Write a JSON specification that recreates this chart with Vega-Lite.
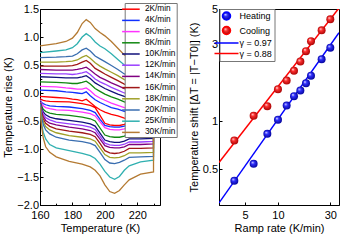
{
"$schema": "https://vega.github.io/schema/vega-lite/v6.json",
"padding": {"left": 2, "top": 2, "right": 3, "bottom": 1},
"bounds": "flush",
"spacing": 59,
"resolve": {"scale": {"color": "independent"}, "legend": {"color": "independent"}},
"config": {
 "font": "Liberation Sans",
 "view": {"stroke": "black", "strokeWidth": 1},
 "axis": {"domainColor": "black", "tickColor": "black", "labelColor": "black", "titleColor": "black", "labelFontSize": 11, "titleFontSize": 11, "titleFontWeight": "normal", "tickSize": -3, "labelPadding": 5, "titlePadding": 3, "grid": false, "labelFlush": false, "labelFont": "Liberation Sans", "titleFont": "Liberation Sans"},
 "axisX": {"labelPadding": 7, "titlePadding": 2},
 "axisY": {"labelPadding": 4.5}
},
"hconcat": [
{
 "width": 120, "height": 196,
 "data": {"values": [
{"r":"2K/min","t":160,"v":-0.06,"o":0},{"r":"2K/min","t":170,"v":-0.08,"o":1},{"r":"2K/min","t":176,"v":-0.09,"o":2},{"r":"2K/min","t":180,"v":-0.11,"o":3},{"r":"2K/min","t":183,"v":-0.12,"o":4},{"r":"2K/min","t":186,"v":-0.14,"o":5},{"r":"2K/min","t":188.5,"v":-0.11,"o":6},{"r":"2K/min","t":191,"v":-0.17,"o":7},{"r":"2K/min","t":194,"v":-0.24,"o":8},{"r":"2K/min","t":197,"v":-0.30,"o":9},{"r":"2K/min","t":200,"v":-0.34,"o":10},{"r":"2K/min","t":204,"v":-0.38,"o":11},{"r":"2K/min","t":208,"v":-0.41,"o":12},{"r":"2K/min","t":212,"v":-0.45,"o":13},{"r":"2K/min","t":220,"v":-0.49,"o":14},{"r":"2K/min","t":230,"v":-0.52,"o":15},
{"r":"2K/min","t":230,"v":-0.51,"o":16},{"r":"2K/min","t":222,"v":-0.52,"o":17},{"r":"2K/min","t":215,"v":-0.52,"o":18},{"r":"2K/min","t":212,"v":-0.56,"o":19},{"r":"2K/min","t":209,"v":-0.58,"o":20},{"r":"2K/min","t":206,"v":-0.58,"o":21},{"r":"2K/min","t":203,"v":-0.57,"o":22},{"r":"2K/min","t":200,"v":-0.54,"o":23},{"r":"2K/min","t":197,"v":-0.40,"o":24},{"r":"2K/min","t":194,"v":-0.26,"o":25},{"r":"2K/min","t":191,"v":-0.22,"o":26},{"r":"2K/min","t":186,"v":-0.19,"o":27},{"r":"2K/min","t":178,"v":-0.16,"o":28},{"r":"2K/min","t":170,"v":-0.155,"o":29},{"r":"2K/min","t":166,"v":-0.15,"o":30},{"r":"2K/min","t":163.5,"v":-0.14,"o":31},{"r":"2K/min","t":162,"v":-0.13,"o":32},{"r":"2K/min","t":161,"v":-0.12,"o":33},{"r":"2K/min","t":160,"v":-0.10,"o":34},
{"r":"4K/min","t":160,"v":0.05,"o":0},{"r":"4K/min","t":170,"v":0.04,"o":1},{"r":"4K/min","t":176,"v":0.02,"o":2},{"r":"4K/min","t":180,"v":0.01,"o":3},{"r":"4K/min","t":183,"v":0.0,"o":4},{"r":"4K/min","t":186,"v":-0.01,"o":5},{"r":"4K/min","t":188.5,"v":0.02,"o":6},{"r":"4K/min","t":191,"v":-0.05,"o":7},{"r":"4K/min","t":194,"v":-0.12,"o":8},{"r":"4K/min","t":197,"v":-0.17,"o":9},{"r":"4K/min","t":200,"v":-0.21,"o":10},{"r":"4K/min","t":204,"v":-0.26,"o":11},{"r":"4K/min","t":208,"v":-0.29,"o":12},{"r":"4K/min","t":212,"v":-0.33,"o":13},{"r":"4K/min","t":220,"v":-0.38,"o":14},{"r":"4K/min","t":230,"v":-0.41,"o":15},
{"r":"4K/min","t":230,"v":-0.55,"o":16},{"r":"4K/min","t":222,"v":-0.56,"o":17},{"r":"4K/min","t":215,"v":-0.56,"o":18},{"r":"4K/min","t":212,"v":-0.59,"o":19},{"r":"4K/min","t":209,"v":-0.61,"o":20},{"r":"4K/min","t":206,"v":-0.61,"o":21},{"r":"4K/min","t":203,"v":-0.60,"o":22},{"r":"4K/min","t":200,"v":-0.58,"o":23},{"r":"4K/min","t":197,"v":-0.47,"o":24},{"r":"4K/min","t":194,"v":-0.35,"o":25},{"r":"4K/min","t":191,"v":-0.31,"o":26},{"r":"4K/min","t":186,"v":-0.28,"o":27},{"r":"4K/min","t":178,"v":-0.25,"o":28},{"r":"4K/min","t":170,"v":-0.24,"o":29},{"r":"4K/min","t":166,"v":-0.23,"o":30},{"r":"4K/min","t":163.5,"v":-0.21,"o":31},{"r":"4K/min","t":162,"v":-0.19,"o":32},{"r":"4K/min","t":161,"v":-0.17,"o":33},{"r":"4K/min","t":160,"v":-0.12,"o":34},
{"r":"6K/min","t":160,"v":0.12,"o":0},{"r":"6K/min","t":170,"v":0.11,"o":1},{"r":"6K/min","t":176,"v":0.09,"o":2},{"r":"6K/min","t":180,"v":0.08,"o":3},{"r":"6K/min","t":183,"v":0.07,"o":4},{"r":"6K/min","t":186,"v":0.07,"o":5},{"r":"6K/min","t":188.5,"v":0.09,"o":6},{"r":"6K/min","t":191,"v":0.04,"o":7},{"r":"6K/min","t":194,"v":-0.04,"o":8},{"r":"6K/min","t":197,"v":-0.09,"o":9},{"r":"6K/min","t":200,"v":-0.13,"o":10},{"r":"6K/min","t":204,"v":-0.18,"o":11},{"r":"6K/min","t":208,"v":-0.22,"o":12},{"r":"6K/min","t":212,"v":-0.26,"o":13},{"r":"6K/min","t":220,"v":-0.30,"o":14},{"r":"6K/min","t":230,"v":-0.34,"o":15},
{"r":"6K/min","t":230,"v":-0.59,"o":16},{"r":"6K/min","t":222,"v":-0.60,"o":17},{"r":"6K/min","t":215,"v":-0.60,"o":18},{"r":"6K/min","t":212,"v":-0.64,"o":19},{"r":"6K/min","t":209,"v":-0.66,"o":20},{"r":"6K/min","t":206,"v":-0.66,"o":21},{"r":"6K/min","t":203,"v":-0.65,"o":22},{"r":"6K/min","t":200,"v":-0.62,"o":23},{"r":"6K/min","t":197,"v":-0.515,"o":24},{"r":"6K/min","t":194,"v":-0.41,"o":25},{"r":"6K/min","t":191,"v":-0.37,"o":26},{"r":"6K/min","t":186,"v":-0.34,"o":27},{"r":"6K/min","t":178,"v":-0.31,"o":28},{"r":"6K/min","t":170,"v":-0.30,"o":29},{"r":"6K/min","t":166,"v":-0.28,"o":30},{"r":"6K/min","t":163.5,"v":-0.26,"o":31},{"r":"6K/min","t":162,"v":-0.23,"o":32},{"r":"6K/min","t":161,"v":-0.19,"o":33},{"r":"6K/min","t":160,"v":-0.13,"o":34},
{"r":"8K/min","t":160,"v":0.20,"o":0},{"r":"8K/min","t":170,"v":0.19,"o":1},{"r":"8K/min","t":176,"v":0.18,"o":2},{"r":"8K/min","t":180,"v":0.17,"o":3},{"r":"8K/min","t":183,"v":0.17,"o":4},{"r":"8K/min","t":186,"v":0.19,"o":5},{"r":"8K/min","t":188.5,"v":0.21,"o":6},{"r":"8K/min","t":191,"v":0.16,"o":7},{"r":"8K/min","t":194,"v":0.08,"o":8},{"r":"8K/min","t":197,"v":0.03,"o":9},{"r":"8K/min","t":200,"v":-0.02,"o":10},{"r":"8K/min","t":204,"v":-0.07,"o":11},{"r":"8K/min","t":208,"v":-0.11,"o":12},{"r":"8K/min","t":212,"v":-0.16,"o":13},{"r":"8K/min","t":220,"v":-0.21,"o":14},{"r":"8K/min","t":230,"v":-0.24,"o":15},
{"r":"8K/min","t":230,"v":-0.72,"o":16},{"r":"8K/min","t":222,"v":-0.73,"o":17},{"r":"8K/min","t":215,"v":-0.73,"o":18},{"r":"8K/min","t":212,"v":-0.77,"o":19},{"r":"8K/min","t":209,"v":-0.79,"o":20},{"r":"8K/min","t":206,"v":-0.79,"o":21},{"r":"8K/min","t":203,"v":-0.78,"o":22},{"r":"8K/min","t":200,"v":-0.75,"o":23},{"r":"8K/min","t":197,"v":-0.625,"o":24},{"r":"8K/min","t":194,"v":-0.50,"o":25},{"r":"8K/min","t":191,"v":-0.46,"o":26},{"r":"8K/min","t":186,"v":-0.43,"o":27},{"r":"8K/min","t":178,"v":-0.40,"o":28},{"r":"8K/min","t":170,"v":-0.38,"o":29},{"r":"8K/min","t":166,"v":-0.36,"o":30},{"r":"8K/min","t":163.5,"v":-0.33,"o":31},{"r":"8K/min","t":162,"v":-0.29,"o":32},{"r":"8K/min","t":161,"v":-0.23,"o":33},{"r":"8K/min","t":160,"v":-0.14,"o":34},
{"r":"10K/min","t":160,"v":0.29,"o":0},{"r":"10K/min","t":170,"v":0.28,"o":1},{"r":"10K/min","t":176,"v":0.27,"o":2},{"r":"10K/min","t":180,"v":0.27,"o":3},{"r":"10K/min","t":183,"v":0.27,"o":4},{"r":"10K/min","t":186,"v":0.29,"o":5},{"r":"10K/min","t":188.5,"v":0.31,"o":6},{"r":"10K/min","t":191,"v":0.26,"o":7},{"r":"10K/min","t":194,"v":0.18,"o":8},{"r":"10K/min","t":197,"v":0.13,"o":9},{"r":"10K/min","t":200,"v":0.08,"o":10},{"r":"10K/min","t":204,"v":0.03,"o":11},{"r":"10K/min","t":208,"v":-0.02,"o":12},{"r":"10K/min","t":212,"v":-0.06,"o":13},{"r":"10K/min","t":220,"v":-0.12,"o":14},{"r":"10K/min","t":230,"v":-0.15,"o":15},
{"r":"10K/min","t":230,"v":-0.81,"o":16},{"r":"10K/min","t":222,"v":-0.82,"o":17},{"r":"10K/min","t":215,"v":-0.82,"o":18},{"r":"10K/min","t":212,"v":-0.86,"o":19},{"r":"10K/min","t":209,"v":-0.88,"o":20},{"r":"10K/min","t":206,"v":-0.88,"o":21},{"r":"10K/min","t":203,"v":-0.87,"o":22},{"r":"10K/min","t":200,"v":-0.84,"o":23},{"r":"10K/min","t":197,"v":-0.715,"o":24},{"r":"10K/min","t":194,"v":-0.59,"o":25},{"r":"10K/min","t":191,"v":-0.55,"o":26},{"r":"10K/min","t":186,"v":-0.52,"o":27},{"r":"10K/min","t":178,"v":-0.49,"o":28},{"r":"10K/min","t":170,"v":-0.46,"o":29},{"r":"10K/min","t":166,"v":-0.43,"o":30},{"r":"10K/min","t":163.5,"v":-0.39,"o":31},{"r":"10K/min","t":162,"v":-0.34,"o":32},{"r":"10K/min","t":161,"v":-0.27,"o":33},{"r":"10K/min","t":160,"v":-0.15,"o":34},
{"r":"12K/min","t":160,"v":0.35,"o":0},{"r":"12K/min","t":170,"v":0.34,"o":1},{"r":"12K/min","t":176,"v":0.34,"o":2},{"r":"12K/min","t":180,"v":0.33,"o":3},{"r":"12K/min","t":183,"v":0.34,"o":4},{"r":"12K/min","t":186,"v":0.36,"o":5},{"r":"12K/min","t":188.5,"v":0.38,"o":6},{"r":"12K/min","t":191,"v":0.33,"o":7},{"r":"12K/min","t":194,"v":0.25,"o":8},{"r":"12K/min","t":197,"v":0.20,"o":9},{"r":"12K/min","t":200,"v":0.16,"o":10},{"r":"12K/min","t":204,"v":0.10,"o":11},{"r":"12K/min","t":208,"v":0.05,"o":12},{"r":"12K/min","t":212,"v":0.0,"o":13},{"r":"12K/min","t":220,"v":-0.05,"o":14},{"r":"12K/min","t":230,"v":-0.09,"o":15},
{"r":"12K/min","t":230,"v":-0.865,"o":16},{"r":"12K/min","t":222,"v":-0.875,"o":17},{"r":"12K/min","t":215,"v":-0.875,"o":18},{"r":"12K/min","t":212,"v":-0.915,"o":19},{"r":"12K/min","t":209,"v":-0.935,"o":20},{"r":"12K/min","t":206,"v":-0.935,"o":21},{"r":"12K/min","t":203,"v":-0.925,"o":22},{"r":"12K/min","t":200,"v":-0.895,"o":23},{"r":"12K/min","t":197,"v":-0.77,"o":24},{"r":"12K/min","t":194,"v":-0.65,"o":25},{"r":"12K/min","t":191,"v":-0.61,"o":26},{"r":"12K/min","t":186,"v":-0.58,"o":27},{"r":"12K/min","t":178,"v":-0.55,"o":28},{"r":"12K/min","t":170,"v":-0.52,"o":29},{"r":"12K/min","t":166,"v":-0.48,"o":30},{"r":"12K/min","t":163.5,"v":-0.44,"o":31},{"r":"12K/min","t":162,"v":-0.38,"o":32},{"r":"12K/min","t":161,"v":-0.30,"o":33},{"r":"12K/min","t":160,"v":-0.16,"o":34},
{"r":"14K/min","t":160,"v":0.42,"o":0},{"r":"14K/min","t":170,"v":0.41,"o":1},{"r":"14K/min","t":176,"v":0.41,"o":2},{"r":"14K/min","t":180,"v":0.41,"o":3},{"r":"14K/min","t":183,"v":0.42,"o":4},{"r":"14K/min","t":186,"v":0.44,"o":5},{"r":"14K/min","t":188.5,"v":0.46,"o":6},{"r":"14K/min","t":191,"v":0.41,"o":7},{"r":"14K/min","t":194,"v":0.34,"o":8},{"r":"14K/min","t":197,"v":0.28,"o":9},{"r":"14K/min","t":200,"v":0.24,"o":10},{"r":"14K/min","t":204,"v":0.18,"o":11},{"r":"14K/min","t":208,"v":0.13,"o":12},{"r":"14K/min","t":212,"v":0.08,"o":13},{"r":"14K/min","t":220,"v":0.02,"o":14},{"r":"14K/min","t":230,"v":-0.01,"o":15},
{"r":"14K/min","t":230,"v":-0.91,"o":16},{"r":"14K/min","t":222,"v":-0.92,"o":17},{"r":"14K/min","t":215,"v":-0.92,"o":18},{"r":"14K/min","t":212,"v":-0.96,"o":19},{"r":"14K/min","t":209,"v":-0.98,"o":20},{"r":"14K/min","t":206,"v":-0.98,"o":21},{"r":"14K/min","t":203,"v":-0.97,"o":22},{"r":"14K/min","t":200,"v":-0.94,"o":23},{"r":"14K/min","t":197,"v":-0.825,"o":24},{"r":"14K/min","t":194,"v":-0.71,"o":25},{"r":"14K/min","t":191,"v":-0.67,"o":26},{"r":"14K/min","t":186,"v":-0.64,"o":27},{"r":"14K/min","t":178,"v":-0.61,"o":28},{"r":"14K/min","t":170,"v":-0.57,"o":29},{"r":"14K/min","t":166,"v":-0.54,"o":30},{"r":"14K/min","t":163.5,"v":-0.49,"o":31},{"r":"14K/min","t":162,"v":-0.42,"o":32},{"r":"14K/min","t":161,"v":-0.33,"o":33},{"r":"14K/min","t":160,"v":-0.17,"o":34},
{"r":"16K/min","t":160,"v":0.48,"o":0},{"r":"16K/min","t":170,"v":0.48,"o":1},{"r":"16K/min","t":176,"v":0.48,"o":2},{"r":"16K/min","t":180,"v":0.49,"o":3},{"r":"16K/min","t":183,"v":0.51,"o":4},{"r":"16K/min","t":186,"v":0.55,"o":5},{"r":"16K/min","t":188.5,"v":0.58,"o":6},{"r":"16K/min","t":191,"v":0.53,"o":7},{"r":"16K/min","t":194,"v":0.44,"o":8},{"r":"16K/min","t":197,"v":0.39,"o":9},{"r":"16K/min","t":200,"v":0.34,"o":10},{"r":"16K/min","t":204,"v":0.28,"o":11},{"r":"16K/min","t":208,"v":0.22,"o":12},{"r":"16K/min","t":212,"v":0.16,"o":13},{"r":"16K/min","t":220,"v":0.10,"o":14},{"r":"16K/min","t":230,"v":0.06,"o":15},
{"r":"16K/min","t":230,"v":-0.98,"o":16},{"r":"16K/min","t":222,"v":-0.99,"o":17},{"r":"16K/min","t":215,"v":-0.99,"o":18},{"r":"16K/min","t":212,"v":-1.04,"o":19},{"r":"16K/min","t":209,"v":-1.07,"o":20},{"r":"16K/min","t":206,"v":-1.08,"o":21},{"r":"16K/min","t":203,"v":-1.07,"o":22},{"r":"16K/min","t":200,"v":-1.03,"o":23},{"r":"16K/min","t":197,"v":-0.90,"o":24},{"r":"16K/min","t":194,"v":-0.78,"o":25},{"r":"16K/min","t":191,"v":-0.74,"o":26},{"r":"16K/min","t":186,"v":-0.71,"o":27},{"r":"16K/min","t":178,"v":-0.68,"o":28},{"r":"16K/min","t":170,"v":-0.64,"o":29},{"r":"16K/min","t":166,"v":-0.595,"o":30},{"r":"16K/min","t":163.5,"v":-0.54,"o":31},{"r":"16K/min","t":162,"v":-0.465,"o":32},{"r":"16K/min","t":161,"v":-0.36,"o":33},{"r":"16K/min","t":160,"v":-0.18,"o":34},
{"r":"18K/min","t":160,"v":0.55,"o":0},{"r":"18K/min","t":170,"v":0.55,"o":1},{"r":"18K/min","t":176,"v":0.56,"o":2},{"r":"18K/min","t":180,"v":0.57,"o":3},{"r":"18K/min","t":183,"v":0.59,"o":4},{"r":"18K/min","t":186,"v":0.64,"o":5},{"r":"18K/min","t":188.5,"v":0.67,"o":6},{"r":"18K/min","t":191,"v":0.62,"o":7},{"r":"18K/min","t":194,"v":0.54,"o":8},{"r":"18K/min","t":197,"v":0.48,"o":9},{"r":"18K/min","t":200,"v":0.43,"o":10},{"r":"18K/min","t":204,"v":0.37,"o":11},{"r":"18K/min","t":208,"v":0.31,"o":12},{"r":"18K/min","t":212,"v":0.24,"o":13},{"r":"18K/min","t":220,"v":0.18,"o":14},{"r":"18K/min","t":230,"v":0.14,"o":15},
{"r":"18K/min","t":230,"v":-1.06,"o":16},{"r":"18K/min","t":222,"v":-1.07,"o":17},{"r":"18K/min","t":215,"v":-1.07,"o":18},{"r":"18K/min","t":212,"v":-1.12,"o":19},{"r":"18K/min","t":209,"v":-1.15,"o":20},{"r":"18K/min","t":206,"v":-1.16,"o":21},{"r":"18K/min","t":203,"v":-1.15,"o":22},{"r":"18K/min","t":200,"v":-1.10,"o":23},{"r":"18K/min","t":197,"v":-0.98,"o":24},{"r":"18K/min","t":194,"v":-0.86,"o":25},{"r":"18K/min","t":191,"v":-0.82,"o":26},{"r":"18K/min","t":186,"v":-0.79,"o":27},{"r":"18K/min","t":178,"v":-0.76,"o":28},{"r":"18K/min","t":170,"v":-0.71,"o":29},{"r":"18K/min","t":166,"v":-0.66,"o":30},{"r":"18K/min","t":163.5,"v":-0.60,"o":31},{"r":"18K/min","t":162,"v":-0.515,"o":32},{"r":"18K/min","t":161,"v":-0.40,"o":33},{"r":"18K/min","t":160,"v":-0.19,"o":34},
{"r":"20K/min","t":160,"v":0.63,"o":0},{"r":"20K/min","t":170,"v":0.64,"o":1},{"r":"20K/min","t":176,"v":0.65,"o":2},{"r":"20K/min","t":180,"v":0.66,"o":3},{"r":"20K/min","t":183,"v":0.70,"o":4},{"r":"20K/min","t":186,"v":0.77,"o":5},{"r":"20K/min","t":188.5,"v":0.80,"o":6},{"r":"20K/min","t":191,"v":0.75,"o":7},{"r":"20K/min","t":194,"v":0.66,"o":8},{"r":"20K/min","t":197,"v":0.61,"o":9},{"r":"20K/min","t":200,"v":0.56,"o":10},{"r":"20K/min","t":204,"v":0.49,"o":11},{"r":"20K/min","t":208,"v":0.42,"o":12},{"r":"20K/min","t":212,"v":0.34,"o":13},{"r":"20K/min","t":220,"v":0.28,"o":14},{"r":"20K/min","t":230,"v":0.23,"o":15},
{"r":"20K/min","t":230,"v":-1.13,"o":16},{"r":"20K/min","t":222,"v":-1.14,"o":17},{"r":"20K/min","t":215,"v":-1.15,"o":18},{"r":"20K/min","t":212,"v":-1.20,"o":19},{"r":"20K/min","t":209,"v":-1.24,"o":20},{"r":"20K/min","t":206,"v":-1.26,"o":21},{"r":"20K/min","t":203,"v":-1.25,"o":22},{"r":"20K/min","t":200,"v":-1.19,"o":23},{"r":"20K/min","t":197,"v":-1.06,"o":24},{"r":"20K/min","t":194,"v":-0.94,"o":25},{"r":"20K/min","t":191,"v":-0.90,"o":26},{"r":"20K/min","t":186,"v":-0.87,"o":27},{"r":"20K/min","t":178,"v":-0.84,"o":28},{"r":"20K/min","t":170,"v":-0.79,"o":29},{"r":"20K/min","t":166,"v":-0.73,"o":30},{"r":"20K/min","t":163.5,"v":-0.66,"o":31},{"r":"20K/min","t":162,"v":-0.565,"o":32},{"r":"20K/min","t":161,"v":-0.43,"o":33},{"r":"20K/min","t":160,"v":-0.20,"o":34},
{"r":"25K/min","t":160,"v":0.72,"o":0},{"r":"25K/min","t":170,"v":0.75,"o":1},{"r":"25K/min","t":176,"v":0.77,"o":2},{"r":"25K/min","t":180,"v":0.81,"o":3},{"r":"25K/min","t":183,"v":0.88,"o":4},{"r":"25K/min","t":186,"v":1.00,"o":5},{"r":"25K/min","t":188.5,"v":1.06,"o":6},{"r":"25K/min","t":191,"v":1.01,"o":7},{"r":"25K/min","t":194,"v":0.91,"o":8},{"r":"25K/min","t":197,"v":0.84,"o":9},{"r":"25K/min","t":200,"v":0.79,"o":10},{"r":"25K/min","t":204,"v":0.70,"o":11},{"r":"25K/min","t":208,"v":0.60,"o":12},{"r":"25K/min","t":212,"v":0.50,"o":13},{"r":"25K/min","t":220,"v":0.42,"o":14},{"r":"25K/min","t":230,"v":0.36,"o":15},
{"r":"25K/min","t":230,"v":-1.20,"o":16},{"r":"25K/min","t":222,"v":-1.23,"o":17},{"r":"25K/min","t":215,"v":-1.30,"o":18},{"r":"25K/min","t":212,"v":-1.38,"o":19},{"r":"25K/min","t":209,"v":-1.49,"o":20},{"r":"25K/min","t":206,"v":-1.54,"o":21},{"r":"25K/min","t":203,"v":-1.50,"o":22},{"r":"25K/min","t":200,"v":-1.40,"o":23},{"r":"25K/min","t":197,"v":-1.27,"o":24},{"r":"25K/min","t":194,"v":-1.17,"o":25},{"r":"25K/min","t":191,"v":-1.12,"o":26},{"r":"25K/min","t":186,"v":-1.08,"o":27},{"r":"25K/min","t":178,"v":-1.03,"o":28},{"r":"25K/min","t":170,"v":-0.98,"o":29},{"r":"25K/min","t":166,"v":-0.92,"o":30},{"r":"25K/min","t":163.5,"v":-0.82,"o":31},{"r":"25K/min","t":162,"v":-0.70,"o":32},{"r":"25K/min","t":161,"v":-0.55,"o":33},{"r":"25K/min","t":160,"v":-0.22,"o":34},
{"r":"30K/min","t":160,"v":0.84,"o":0},{"r":"30K/min","t":170,"v":0.88,"o":1},{"r":"30K/min","t":176,"v":0.92,"o":2},{"r":"30K/min","t":180,"v":0.98,"o":3},{"r":"30K/min","t":183,"v":1.08,"o":4},{"r":"30K/min","t":186,"v":1.24,"o":5},{"r":"30K/min","t":188.5,"v":1.31,"o":6},{"r":"30K/min","t":191,"v":1.26,"o":7},{"r":"30K/min","t":194,"v":1.15,"o":8},{"r":"30K/min","t":197,"v":1.08,"o":9},{"r":"30K/min","t":200,"v":1.02,"o":10},{"r":"30K/min","t":204,"v":0.92,"o":11},{"r":"30K/min","t":208,"v":0.80,"o":12},{"r":"30K/min","t":212,"v":0.68,"o":13},{"r":"30K/min","t":220,"v":0.58,"o":14},{"r":"30K/min","t":230,"v":0.52,"o":15},
{"r":"30K/min","t":230,"v":-1.41,"o":16},{"r":"30K/min","t":222,"v":-1.45,"o":17},{"r":"30K/min","t":215,"v":-1.55,"o":18},{"r":"30K/min","t":212,"v":-1.64,"o":19},{"r":"30K/min","t":209,"v":-1.74,"o":20},{"r":"30K/min","t":206,"v":-1.79,"o":21},{"r":"30K/min","t":203,"v":-1.76,"o":22},{"r":"30K/min","t":200,"v":-1.64,"o":23},{"r":"30K/min","t":197,"v":-1.48,"o":24},{"r":"30K/min","t":194,"v":-1.38,"o":25},{"r":"30K/min","t":191,"v":-1.32,"o":26},{"r":"30K/min","t":186,"v":-1.27,"o":27},{"r":"30K/min","t":178,"v":-1.22,"o":28},{"r":"30K/min","t":170,"v":-1.14,"o":29},{"r":"30K/min","t":166,"v":-1.06,"o":30},{"r":"30K/min","t":163.5,"v":-0.96,"o":31},{"r":"30K/min","t":162,"v":-0.80,"o":32},{"r":"30K/min","t":161,"v":-0.60,"o":33},{"r":"30K/min","t":160,"v":-0.25,"o":34}
 ]},
 "mark": {"type": "line", "strokeWidth": 1.3, "clip": true},
 "encoding": {
  "x": {"field": "t", "type": "quantitative", "scale": {"domain": [160, 234], "nice": false, "zero": false},
        "axis": {"values": [160, 170, 180, 190, 200, 210, 220, 230], "labelExpr": "datum.value % 20 == 0 ? datum.label : ''",
                 "tickSize": {"condition": {"test": "datum.value % 20 == 0", "value": -3}, "value": -1.8}, "title": "Temperature (K)"}},
  "y": {"field": "v", "type": "quantitative", "scale": {"domain": [-2, 1.5], "nice": false, "zero": false},
        "axis": {"values": [-2, -1.75, -1.5, -1.25, -1, -0.75, -0.5, -0.25, 0, 0.25, 0.5, 0.75, 1, 1.25, 1.5], "format": ".1f",
                 "labelExpr": "abs(datum.value * 2 - round(datum.value * 2)) < 0.001 ? datum.label : ''",
                 "tickSize": {"condition": {"test": "abs(datum.value * 2 - round(datum.value * 2)) < 0.001", "value": -3}, "value": -1.8}, "title": "Temperature rise (K)"}},
  "color": {"field": "r", "type": "nominal",
   "scale": {"domain": ["2K/min","4K/min","6K/min","8K/min","10K/min","12K/min","14K/min","16K/min","18K/min","20K/min","25K/min","30K/min"],
             "range": ["#ff0000","#1030ff","#ff33ff","#118811","#10107a","#9a40ff","#800080","#a01818","#a0a028","#3a6eb0","#30b0b0","#b47a32"]},
   "legend": {"orient": "none", "legendX": 84.7, "legendY": -6, "title": null, "symbolType": "M-2.2,0H2.2", "symbolSize": 64, "symbolStrokeWidth": 1.5, "labelFontSize": 8.3, "labelOffset": 9, "padding": 1.2, "rowPadding": 2.2, "strokeColor": "#777777", "fillColor": "white", "labelFont": "Liberation Sans", "labelColor": "black"}},
  "order": {"field": "o", "type": "quantitative"}
 }
},
{
 "width": 120, "height": 196,
 "layer": [
  {
   "data": {"values": [
    {"s":"γ = 0.97","x":2.9,"y":0.309},{"s":"γ = 0.97","x":36,"y":3.56},
    {"s":"γ = 0.88","x":2.9,"y":0.552},{"s":"γ = 0.88","x":36,"y":5.07}
   ]},
   "mark": {"type": "line", "strokeWidth": 1.5, "clip": true},
   "encoding": {
    "x": {"field": "x", "type": "quantitative", "scale": {"type": "log", "domain": [2.9, 36], "nice": false}, "axis": {"values": [5, 10, 30], "format": "~g", "title": "Ramp rate (K/min)"}},
    "y": {"field": "y", "type": "quantitative", "scale": {"type": "log", "domain": [0.3, 5], "nice": false}, "axis": {"values": [0.5, 1, 3, 5], "format": "~g", "title": "Temperature shift [ΔT = |T−T0|] (K)"}},
    "color": {"field": "s", "type": "nominal",
     "scale": {"domain": ["Heating", "Cooling", "γ = 0.97", "γ = 0.88"], "range": ["#0000ff", "#ff0000", "#0000ff", "#ff0000"]},
     "legend": {"orient": "none", "legendX": 0.5, "legendY": 0, "title": null, "symbolType": "M-3,0H3", "symbolSize": 64, "symbolStrokeWidth": 1.5, "labelFontSize": 9, "labelOffset": 8, "padding": 2, "rowPadding": 0.5, "strokeColor": "#777777", "fillColor": "white", "labelFont": "Liberation Sans", "labelColor": "black",
      "encode": {"symbols": {"update": {
        "shape": {"signal": "indexof(['Heating','Cooling'], datum.value) >= 0 ? 'circle' : 'M-3,0H3'"},
        "fill": {"signal": "datum.value == 'Heating' ? {gradient: 'radial', x1: 0.35, y1: 0.3, r1: 0, x2: 0.5, y2: 0.5, r2: 0.55, stops: [{offset: 0, color: '#ffffff'}, {offset: 0.35, color: '#3030ff'}, {offset: 1, color: '#000090'}]} : datum.value == 'Cooling' ? {gradient: 'radial', x1: 0.35, y1: 0.3, r1: 0, x2: 0.5, y2: 0.5, r2: 0.55, stops: [{offset: 0, color: '#ffffff'}, {offset: 0.35, color: '#ff3030'}, {offset: 1, color: '#a00000'}]} : 'transparent'"},
        "stroke": {"signal": "indexof(['Heating','Cooling'], datum.value) >= 0 ? 'transparent' : (datum.value == 'γ = 0.97' ? '#0000ff' : '#ff0000')"}
      }}}}
    }
   }
  },
  {
   "data": {"values": [
    {"x":4,"y":0.425},{"x":6,"y":0.542},{"x":8,"y":0.833},{"x":10,"y":1.02},{"x":12,"y":1.25},{"x":14,"y":1.43},{"x":16,"y":1.55},{"x":18,"y":1.72},{"x":20,"y":1.92},{"x":25,"y":2.43},{"x":30,"y":2.87}
   ]},
   "mark": {"type": "point", "shape": "circle", "filled": true, "size": 64, "opacity": 1, "strokeWidth": 0,
     "fill": {"gradient": "radial", "x1": 0.35, "y1": 0.3, "r1": 0, "x2": 0.5, "y2": 0.5, "r2": 0.55, "stops": [{"offset": 0, "color": "#ffffff"}, {"offset": 0.35, "color": "#3030ff"}, {"offset": 1, "color": "#000090"}]}},
   "encoding": {"x": {"field": "x", "type": "quantitative"}, "y": {"field": "y", "type": "quantitative"}}
  },
  {
   "data": {"values": [
    {"x":4,"y":0.757},{"x":6,"y":1.08},{"x":8,"y":1.24},{"x":10,"y":1.58},{"x":12,"y":1.79},{"x":14,"y":2.06},{"x":16,"y":2.35},{"x":18,"y":2.73},{"x":20,"y":3.15},{"x":25,"y":3.68},{"x":30,"y":4.31}
   ]},
   "mark": {"type": "point", "shape": "circle", "filled": true, "size": 64, "opacity": 1, "strokeWidth": 0,
     "fill": {"gradient": "radial", "x1": 0.35, "y1": 0.3, "r1": 0, "x2": 0.5, "y2": 0.5, "r2": 0.55, "stops": [{"offset": 0, "color": "#ffffff"}, {"offset": 0.35, "color": "#ff3030"}, {"offset": 1, "color": "#a00000"}]}},
   "encoding": {"x": {"field": "x", "type": "quantitative"}, "y": {"field": "y", "type": "quantitative"}}
  }
 ]
}
]
}
